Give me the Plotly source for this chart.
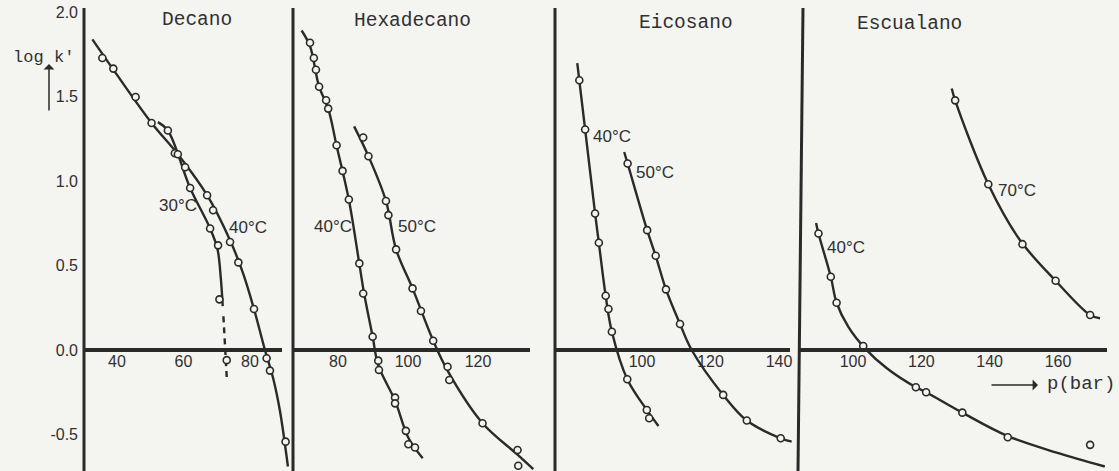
import plotly.graph_objects as go

W, H = 1119, 471
INK = "#2a2a2a"
TXT = "#303030"
BG = "#f4f4f1"

# ---------------- Decano ----------------
dec30_pts_p = [55.3, 62.0, 68.0, 70.4, 70.8, 73.0]
dec30_pts_y = [1.30, 0.96, 0.72, 0.62, 0.30, -0.06]
dec30_line_p = [52.3, 55.3, 62.0, 68.0, 70.2, 71.2, 71.8]
dec30_line_y = [1.35, 1.30, 0.96, 0.72, 0.60, 0.43, 0.26]
dec30_dash_p = [72.0, 72.5, 73.0]
dec30_dash_y = [0.20, 0.02, -0.16]

dec40_pts_p = [35.6, 38.9, 45.6, 50.4, 57.4, 58.3, 60.5, 67.1, 68.9, 74.0, 76.5, 81.2, 85.0, 86.0, 90.7]
dec40_pts_y = [1.73, 1.667, 1.499, 1.345, 1.166, 1.16, 1.083, 0.917, 0.828, 0.64, 0.519, 0.243, -0.049, -0.122, -0.543]
dec40_line_p = [32.6, 40.0, 50.4, 58.3, 67.1, 74.0, 78.0, 81.2, 84.5, 87.0, 89.0, 91.4]
dec40_line_y = [1.84, 1.63, 1.345, 1.16, 0.917, 0.65, 0.45, 0.243, 0.0, -0.17, -0.36, -0.69]

# ---------------- Hexadecano ----------------
hex40_pts_p = [72.0, 73.1, 73.7, 74.6, 76.6, 77.2, 79.6, 81.3, 83.1, 86.1, 87.2, 89.9, 91.5, 91.7, 96.3, 96.3, 99.4, 100.1, 102.0]
hex40_pts_y = [1.82, 1.73, 1.66, 1.56, 1.48, 1.43, 1.213, 1.061, 0.892, 0.513, 0.335, 0.079, -0.063, -0.118, -0.282, -0.316, -0.479, -0.558, -0.578]
hex40_line_p = [69.6, 72.0, 74.6, 77.2, 79.6, 83.1, 86.1, 87.5, 89.9, 91.5, 96.3, 100.1, 104.2]
hex40_line_y = [1.893, 1.80, 1.56, 1.43, 1.21, 0.89, 0.51, 0.33, 0.08, -0.09, -0.30, -0.52, -0.641]

hex50_pts_p = [87.2, 88.7, 93.7, 94.4, 96.6, 101.3, 103.7, 107.2, 111.3, 111.8, 121.3, 131.3, 131.5]
hex50_pts_y = [1.259, 1.148, 0.883, 0.799, 0.596, 0.365, 0.231, 0.055, -0.099, -0.178, -0.434, -0.592, -0.686]
hex50_line_p = [84.6, 88.7, 93.7, 96.6, 101.3, 107.2, 111.5, 121.3, 131.3, 135.8]
hex50_line_y = [1.325, 1.148, 0.883, 0.596, 0.365, 0.055, -0.13, -0.434, -0.62, -0.706]

# ---------------- Eicosano ----------------
eic40_pts_p = [81.7, 83.4, 86.3, 87.4, 89.4, 90.2, 91.2, 95.7, 101.4, 102.1]
eic40_pts_y = [1.598, 1.306, 0.809, 0.635, 0.321, 0.243, 0.108, -0.173, -0.355, -0.404]
eic40_line_p = [81.1, 83.4, 86.3, 87.4, 89.4, 91.2, 95.7, 101.4, 104.8]
eic40_line_y = [1.70, 1.306, 0.81, 0.635, 0.32, 0.108, -0.173, -0.355, -0.45]

eic50_pts_p = [95.8, 101.5, 104.0, 107.0, 111.1, 123.7, 130.6, 140.5]
eic50_pts_y = [1.105, 0.71, 0.558, 0.359, 0.154, -0.266, -0.418, -0.523]
eic50_line_p = [94.8, 95.8, 101.5, 104.0, 107.0, 111.1, 114.5, 123.7, 130.6, 140.5, 143.7]
eic50_line_y = [1.173, 1.105, 0.71, 0.558, 0.359, 0.154, 0.0, -0.266, -0.418, -0.523, -0.543]

# ---------------- Escualano ----------------
esc40_pts_p = [89.9, 93.5, 95.2, 103.0, 118.4, 121.4, 132.0, 145.3, 169.4]
esc40_pts_y = [0.69, 0.434, 0.28, 0.024, -0.221, -0.25, -0.371, -0.517, -0.562]
esc40_line_p = [89.2, 89.9, 93.5, 95.2, 98.6, 103.5, 110.0, 118.4, 121.4, 132.0, 145.3, 159.6, 173.7]
esc40_line_y = [0.753, 0.69, 0.434, 0.28, 0.138, 0.01, -0.11, -0.221, -0.25, -0.371, -0.51, -0.608, -0.69]

esc70_pts_p = [129.9, 139.6, 149.6, 159.3, 169.4]
esc70_pts_y = [1.479, 0.982, 0.627, 0.41, 0.207]
esc70_line_p = [128.9, 129.9, 139.6, 148.9, 159.3, 169.4, 172.3]
esc70_line_y = [1.549, 1.479, 0.982, 0.65, 0.41, 0.207, 0.188]

# tick labels
x_ticks = {
    "x": [40, 60, 80],
    "x2": [80, 100, 120],
    "x3": [100, 120, 140],
    "x4": [100, 120, 140, 160],
}
y_tickvals = [-0.5, 0.0, 0.5, 1.0, 1.5, 2.0]
y_ticktext = ["-0.5", "0.0", "0.5", "1.0", "1.5", "2.0"]

fig = go.Figure()


def add_curve(xa, lp, ly, dash="solid"):
    fig.add_trace(go.Scatter(
        x=lp, y=ly, xaxis=xa, yaxis="y", mode="lines",
        line=dict(color=INK, width=2.4, shape="spline", smoothing=1.0, dash=dash),
        hoverinfo="skip", showlegend=False))


def add_points(xa, pp, py):
    fig.add_trace(go.Scatter(
        x=pp, y=py, xaxis=xa, yaxis="y", mode="markers",
        marker=dict(symbol="circle", size=7, color=BG, line=dict(color=INK, width=1.6)),
        showlegend=False))


add_curve("x", dec30_line_p, dec30_line_y)
add_curve("x", dec30_dash_p, dec30_dash_y, dash="6px,5px")
add_curve("x", dec40_line_p, dec40_line_y)
add_points("x", dec30_pts_p, dec30_pts_y)
add_points("x", dec40_pts_p, dec40_pts_y)

add_curve("x2", hex40_line_p, hex40_line_y)
add_curve("x2", hex50_line_p, hex50_line_y)
add_points("x2", hex40_pts_p, hex40_pts_y)
add_points("x2", hex50_pts_p, hex50_pts_y)

add_curve("x3", eic40_line_p, eic40_line_y)
add_curve("x3", eic50_line_p, eic50_line_y)
add_points("x3", eic40_pts_p, eic40_pts_y)
add_points("x3", eic50_pts_p, eic50_pts_y)

add_curve("x4", esc40_line_p, esc40_line_y)
add_curve("x4", esc70_line_p, esc70_line_y)
add_points("x4", esc40_pts_p, esc40_pts_y)
add_points("x4", esc70_pts_p, esc70_pts_y)

zero_pos = (H - 350) / H
tick_font = dict(family="Liberation Sans, Arial, sans-serif", size=16, color=TXT)


def xaxis_cfg(dom_px, rng, ticks):
    return dict(domain=[dom_px[0] / W, dom_px[1] / W], range=rng, anchor="free",
                position=zero_pos, tickvals=ticks, ticks="", showgrid=False,
                zeroline=False, showline=False, tickfont=tick_font,
                ticklabelstandoff=0)


fig.update_layout(
    width=W, height=H,
    margin=dict(l=0, r=0, t=0, b=0),
    paper_bgcolor=BG, plot_bgcolor=BG,
    xaxis=xaxis_cfg((84, 293), [30.08, 92.93], x_ticks["x"]),
    xaxis2=xaxis_cfg((293, 556), [67.14, 142.29], x_ticks["x2"]),
    xaxis3=xaxis_cfg((556, 800), [74.89, 146.13], x_ticks["x3"]),
    xaxis4=xaxis_cfg((800, 1119), [84.49, 177.85], x_ticks["x4"]),
    yaxis=dict(domain=[0, 1], range=[-0.7168, 2.0735], anchor="x",
               tickvals=y_tickvals, ticktext=y_ticktext, ticks="",
               showgrid=False, zeroline=False, showline=False,
               tickfont=tick_font, ticklabelstandoff=5),
)


def px_x(v):
    return v / W


def px_y(v):
    return 1 - v / H


# panel frame lines
shapes = []
for x0, x1, ytop in [(84, 84, 8), (293, 293, 8), (555, 555, 8), (803, 798, 8)]:
    shapes.append(dict(type="line", xref="paper", yref="paper",
                       x0=px_x(x0), x1=px_x(x1), y0=px_y(ytop), y1=0,
                       line=dict(color=INK, width=3)))
for a, b in [(84, 282), (293, 530), (556, 790), (800, 1107)]:
    shapes.append(dict(type="line", xref="paper", yref="y",
                       x0=px_x(a), x1=px_x(b), y0=0, y1=0,
                       line=dict(color=INK, width=4)))
fig.update_layout(shapes=shapes)

mono = "Liberation Mono, Courier New, monospace"
sans = "Liberation Sans, Arial, sans-serif"
ann = []


def label(text, cx, cy, fam, size, xanchor="center"):
    ann.append(dict(text=text, x=px_x(cx), y=px_y(cy), xref="paper", yref="paper",
                    showarrow=False, xanchor=xanchor, yanchor="middle",
                    font=dict(family=fam, size=size, color=TXT)))


label("Decano", 197, 20, mono, 19.5)
label("Hexadecano", 412, 21, mono, 19.5)
label("Eicosano", 686, 23, mono, 19.5)
label("Escualano", 909, 24, mono, 19.5)

label("log", 11, 58, mono, 17, "left")
label("k'", 52, 58, mono, 17, "left")

label("30°C", 178, 205, sans, 17)
label("40°C", 248, 227, sans, 17)
label("40°C", 333, 226, sans, 17)
label("50°C", 417, 226, sans, 17)
label("40°C", 612, 137, sans, 17)
label("50°C", 655, 173, sans, 17)
label("70°C", 1017, 190, sans, 17)
label("40°C", 846, 247, sans, 17)
label("p(bar)", 1081, 384, mono, 19)

# axis direction arrows
ann.append(dict(x=px_x(49), y=px_y(64), xref="paper", yref="paper", text="",
                showarrow=True, ax=0, ay=48, arrowhead=1, arrowsize=1.2,
                arrowwidth=1.5, arrowcolor=INK))
ann.append(dict(x=px_x(1038), y=px_y(385), xref="paper", yref="paper", text="",
                showarrow=True, ax=-48, ay=0, arrowhead=1, arrowsize=1.2,
                arrowwidth=1.5, arrowcolor=INK))
fig.update_layout(annotations=ann)

fig.write_html("out.html")
